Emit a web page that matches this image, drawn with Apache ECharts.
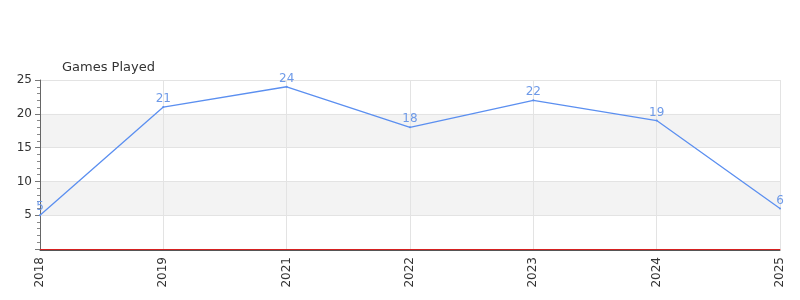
<!DOCTYPE html>
<html><head><meta charset="utf-8">
<script src="https://cdn.jsdelivr.net/npm/echarts@6/dist/echarts.min.js"></script>
<style>html,body{margin:0;padding:0;background:#fff}#c{width:800px;height:300px}</style>
</head><body><div id="c"></div>
<script>
const categories = ['2018','2019','2021','2022','2023','2024','2025'];
const gamesPlayed = [5,21,24,18,22,19,6];
const titleText = 'Games Played';

const chart = echarts.init(document.getElementById('c'), null, {renderer:'canvas'});
chart.setOption({
  animation:false,
  title:{text:titleText,left:57,top:56,textStyle:{fontSize:13,fontWeight:'normal',color:'#333',fontFamily:'DejaVu Sans'}},
  grid:{left:40,right:20,top:80,bottom:51,containLabel:false},
  xAxis:[{type:'category',data:categories,boundaryGap:false,
    axisLine:{lineStyle:{color:'#d62020',width:1}},
    axisTick:{show:false},
    axisLabel:{rotate:90,fontSize:12,color:'#333',fontFamily:'DejaVu Sans',margin:8},
    splitLine:{show:true,lineStyle:{color:'#e3e3e3'}}},
   {type:'category',data:categories,boundaryGap:false,position:'bottom',offset:1,
    axisLine:{show:true,lineStyle:{color:'#555',width:1}},
    axisTick:{show:false},axisLabel:{show:false},splitLine:{show:false}}],
  yAxis:{type:'value',min:0,max:25,interval:5,
    axisLine:{show:true,lineStyle:{color:'#666'}},
    axisTick:{show:true,length:5,lineStyle:{color:'#777'}},
    minorTick:{show:true,splitNumber:5,length:3,lineStyle:{color:'#888'}},
    axisLabel:{fontSize:12,color:'#333',fontFamily:'DejaVu Sans',showMinLabel:false,margin:8},
    splitLine:{show:true,lineStyle:{color:'#e3e3e3'}},
    splitArea:{show:true,areaStyle:{color:['#ffffff','#f3f3f3']}}},
  series:[{type:'line',data:gamesPlayed,xAxisIndex:0,showSymbol:true,symbol:'circle',symbolSize:2,
    lineStyle:{color:'#5b8ff0',width:1.3},itemStyle:{color:'#5b8ff0'},
    label:{show:true,position:'top',color:'#6e9ae8',fontSize:12,fontFamily:'DejaVu Sans',distance:1}
  }]
});
</script></body></html>
